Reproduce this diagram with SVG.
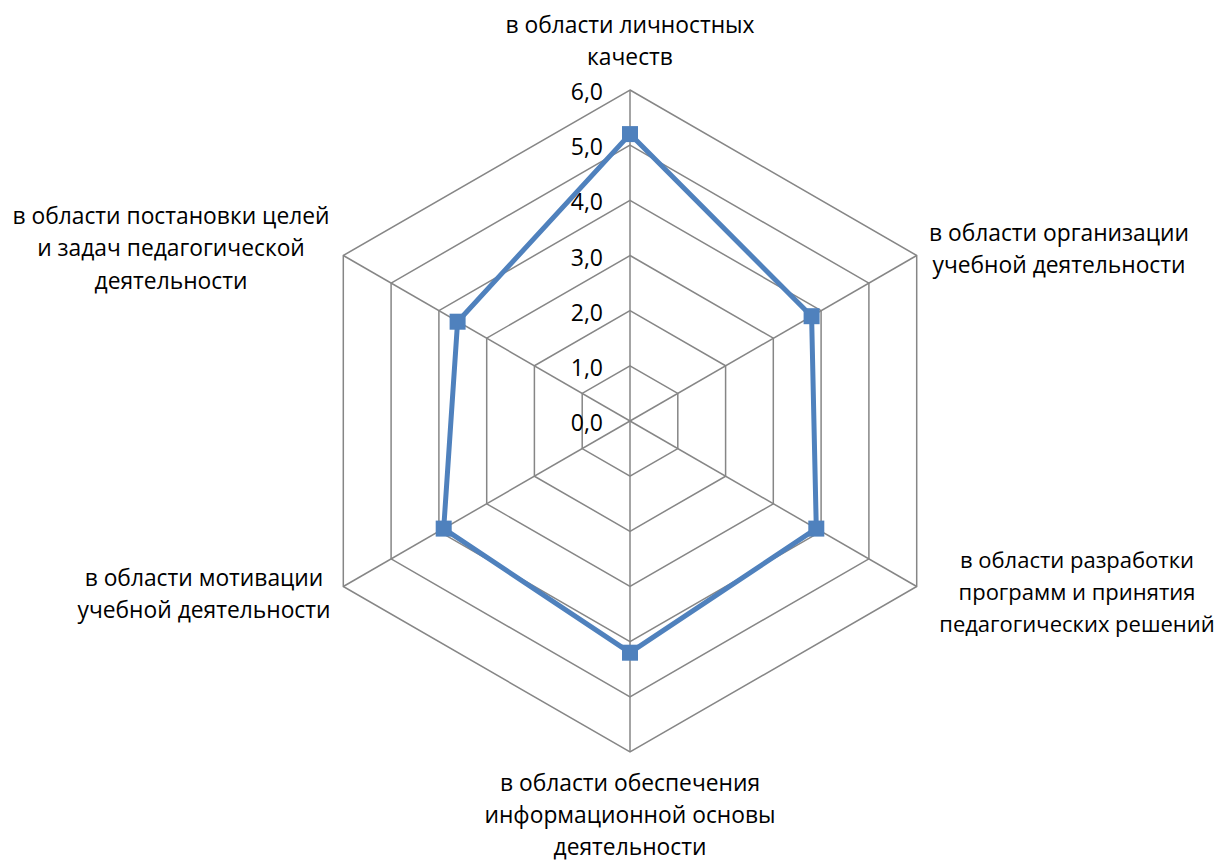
<svg xmlns="http://www.w3.org/2000/svg" width="1216" height="860" viewBox="0 0 1216 860">
<style>
.grid{fill:none;stroke:#868686;stroke-width:1.5}
.tick{font-family:"Open Sans","Liberation Sans",sans-serif;font-size:23px;fill:#000;text-anchor:end}
.lbl{font-family:"Open Sans","Liberation Sans",sans-serif;font-size:22.8px;fill:#000;text-anchor:middle}
.lbl2{font-size:22px}
.series{fill:none;stroke:#4F81BD;stroke-width:5;stroke-linejoin:round}
.mk{fill:#4F81BD}
</style>
<defs>
<rect id="m" x="-8" y="-8" width="16" height="16" class="mk"/>
</defs>
<rect width="1216" height="860" fill="#fff"/>
<g id="grid">
<polygon class="grid" points="630,365.8 677.8,393.4 677.8,448.6 630,476.2 582.2,448.6 582.2,393.4"/>
<polygon class="grid" points="630,310.7 725.6,365.8 725.6,476.2 630,531.3 534.4,476.2 534.4,365.8"/>
<polygon class="grid" points="630,255.5 773.3,338.2 773.3,503.8 630,586.5 486.7,503.8 486.7,338.2"/>
<polygon class="grid" points="630,200.3 821.1,310.7 821.1,531.3 630,641.7 438.9,531.3 438.9,310.7"/>
<polygon class="grid" points="630,145.2 868.9,283.1 868.9,558.9 630,696.8 391.1,558.9 391.1,283.1"/>
<polygon class="grid" points="630,90 916.7,255.5 916.7,586.5 630,752 343.3,586.5 343.3,255.5"/>
<line class="grid" x1="630" y1="421" x2="630" y2="90"/>
<line class="grid" x1="630" y1="421" x2="916.7" y2="255.5"/>
<line class="grid" x1="630" y1="421" x2="916.7" y2="586.5"/>
<line class="grid" x1="630" y1="421" x2="630" y2="752"/>
<line class="grid" x1="630" y1="421" x2="343.3" y2="586.5"/>
<line class="grid" x1="630" y1="421" x2="343.3" y2="255.5"/>
</g>
<g id="ticks">
<text class="tick" x="603" y="431">0,0</text>
<text class="tick" x="603" y="376">1,0</text>
<text class="tick" x="603" y="321">2,0</text>
<text class="tick" x="603" y="266">3,0</text>
<text class="tick" x="603" y="210">4,0</text>
<text class="tick" x="603" y="155">5,0</text>
<text class="tick" x="603" y="100">6,0</text>
</g>
<g id="connectors">
<polygon class="series" points="630,134.1 811.6,316.2 816.3,528.6 630,652.7 443.7,528.6 457.6,321.7"/>
</g>
<g id="markers">
<use href="#m" x="630" y="134.1"/>
<use href="#m" x="811.6" y="316.2"/>
<use href="#m" x="816.3" y="528.6"/>
<use href="#m" x="630" y="652.7"/>
<use href="#m" x="443.7" y="528.6"/>
<use href="#m" x="457.6" y="321.7"/>
</g>
<g id="label-top">
<text class="lbl" x="630" y="33">в области личностных</text>
<text class="lbl" x="630" y="65">качеств</text>
</g>
<g id="label-ur">
<text class="lbl" x="1059" y="241">в области организации</text>
<text class="lbl" x="1059" y="273">учебной деятельности</text>
</g>
<g id="label-lr">
<text class="lbl lbl2" x="1077" y="568">в области разработки</text>
<text class="lbl lbl2" x="1077" y="600">программ и принятия</text>
<text class="lbl lbl2" x="1077" y="632">педагогических решений</text>
</g>
<g id="label-bottom">
<text class="lbl" x="630" y="791">в области обеспечения</text>
<text class="lbl" x="630" y="823">информационной основы</text>
<text class="lbl" x="630" y="855">деятельности</text>
</g>
<g id="label-ll">
<text class="lbl" x="204" y="586">в области мотивации</text>
<text class="lbl" x="204" y="618">учебной деятельности</text>
</g>
<g id="label-ul">
<text class="lbl" x="171" y="224">в области постановки целей</text>
<text class="lbl" x="171" y="256">и задач педагогической</text>
<text class="lbl" x="171" y="289">деятельности</text>
</g>
</svg>
